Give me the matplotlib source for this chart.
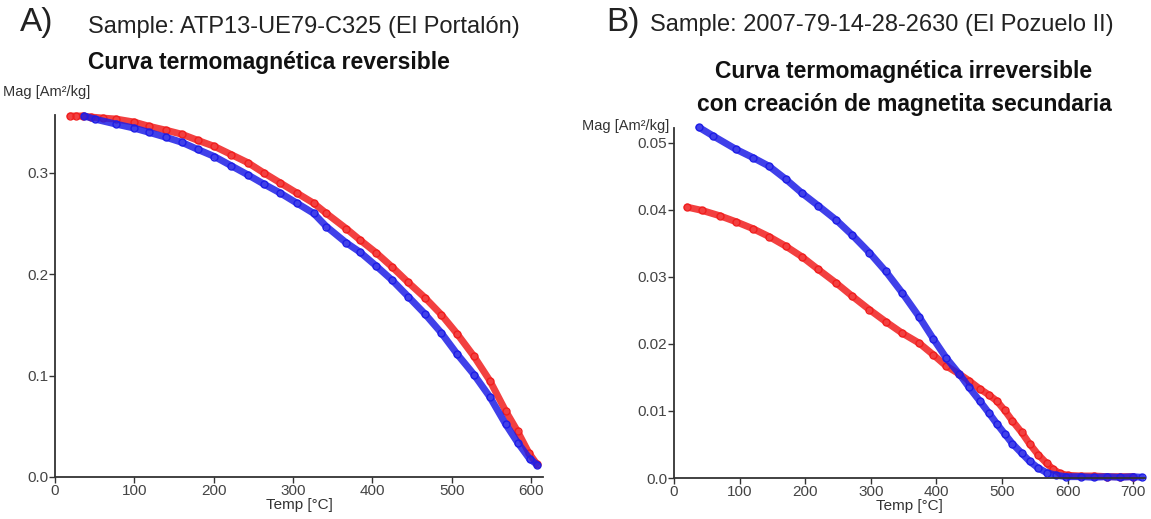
import matplotlib
matplotlib.use('Agg')
import matplotlib.pyplot as plt
from matplotlib.ticker import FixedLocator, FuncFormatter

plt.rcParams['font.family'] = ['Liberation Sans', 'DejaVu Sans']

# Panel A: ATP13-UE79-C325 (El Portalon) - reversible
a_heat_T = [19, 27, 35, 45, 60, 77, 100, 118, 140, 160, 180, 201, 222, 243, 263, 284,
            305, 326, 342, 367, 384, 405, 425, 445, 466, 487, 507, 528, 548, 568, 583,
            597, 607]
a_heat_M = [0.356, 0.356, 0.356, 0.355, 0.354, 0.353, 0.350, 0.346, 0.342, 0.338, 0.332,
            0.326, 0.318, 0.310, 0.300, 0.290, 0.280, 0.270, 0.260, 0.245, 0.234, 0.221,
            0.207, 0.192, 0.177, 0.160, 0.141, 0.119, 0.095, 0.065, 0.045, 0.024, 0.013]
a_cool_T = [37, 50, 77, 100, 118, 140, 160, 180, 201, 222, 243, 263, 284, 305, 326, 342,
            367, 384, 405, 425, 445, 466, 487, 507, 528, 548, 568, 583, 598, 608]
a_cool_M = [0.356, 0.353, 0.348, 0.344, 0.340, 0.335, 0.330, 0.323, 0.316, 0.307, 0.298,
            0.289, 0.280, 0.270, 0.260, 0.247, 0.231, 0.222, 0.208, 0.194, 0.178, 0.161,
            0.142, 0.121, 0.101, 0.079, 0.052, 0.034, 0.018, 0.012]

# Panel B: 2007-79-14-28-2630 (El Pozuelo II) - irreversible
b_heat_T = [20, 43, 70, 95, 120, 145, 170, 195, 220, 247, 272, 298, 323, 348, 374, 395,
            415, 435, 450, 466, 480, 492, 504, 516, 530, 542, 555, 568, 578, 588, 600,
            620, 640, 660, 680, 700]
b_heat_M = [0.0404, 0.0399, 0.0391, 0.0382, 0.0372, 0.0360, 0.0346, 0.0330, 0.0311,
            0.0291, 0.0271, 0.0251, 0.0233, 0.0216, 0.0201, 0.0184, 0.0167, 0.0155,
            0.0145, 0.0133, 0.0124, 0.0115, 0.0101, 0.0085, 0.0068, 0.0051, 0.0035,
            0.0022, 0.0013, 0.0007, 0.0004, 0.0003, 0.0003, 0.0002, 0.0002, 0.0002]
b_cool_T = [38, 60, 95, 120, 145, 170, 195, 220, 247, 272, 298, 323, 348, 374, 395, 415,
            435, 450, 466, 480, 492, 504, 516, 530, 542, 555, 568, 583, 598, 620, 640,
            660, 680, 700, 713]
b_cool_M = [0.0523, 0.0510, 0.0490, 0.0478, 0.0465, 0.0446, 0.0425, 0.0406, 0.0385,
            0.0362, 0.0336, 0.0308, 0.0276, 0.0240, 0.0208, 0.0179, 0.0155, 0.0135,
            0.0115, 0.0097, 0.0081, 0.0066, 0.0051, 0.0037, 0.0025, 0.0015, 0.0008,
            0.0004, 0.0002, 0.0002, 0.0001, 0.0002, 0.0001, 0.0002, 0.0001]

a_xticks = [0, 100, 200, 300, 400, 500, 600]
a_yticks = [0.0, 0.1, 0.2, 0.3]
b_xticks = [0, 100, 200, 300, 400, 500, 600, 700]
b_yticks = [0.0, 0.01, 0.02, 0.03, 0.04, 0.05]

RED = '#f01e1e'
BLUE = '#1e1ee6'
W, H = 1151, 519


def fx(px):
    return px / W


def fy(py):
    return 1 - py / H


def draw_curve(ax, T, M, color):
    ax.plot(T, M, '-', color=color, lw=5, alpha=0.85, solid_capstyle='round')
    ax.plot(T, M, 'o', color=color, mfc='none', ms=5, mew=1.0)


def style_axis(ax, xticks, yticks, yfmt):
    for s in ('top', 'right'):
        ax.spines[s].set_visible(False)
    for s in ('left', 'bottom'):
        ax.spines[s].set_color('#333333')
        ax.spines[s].set_linewidth(1.3)
    ax.xaxis.set_major_locator(FixedLocator(xticks))
    ax.yaxis.set_major_locator(FixedLocator(yticks))
    ax.yaxis.set_major_formatter(FuncFormatter(yfmt))
    ax.tick_params(direction='out', length=4, width=1, color='#333333',
                   labelsize=11, labelcolor='#444444', pad=1)


fig = plt.figure(figsize=(W / 100, H / 100), dpi=100)

# Panel A
axA = fig.add_axes([fx(55), fy(477), fx(488), (477 - 115) / H])
draw_curve(axA, a_heat_T, a_heat_M, RED)
draw_curve(axA, a_cool_T, a_cool_M, BLUE)
axA.set_xlim(0, 615)
axA.set_ylim(0, 0.357)
style_axis(axA, a_xticks, a_yticks, lambda v, p: f'{v:.1f}')
axA.set_xlabel('Temp [°C]', fontsize=11, color='#333333', labelpad=0)
for c in axA.lines:
    c.set_clip_on(False)

# Panel B
axB = fig.add_axes([fx(674), fy(478), fx(471), (478 - 128) / H])
draw_curve(axB, b_heat_T, b_heat_M, RED)
draw_curve(axB, b_cool_T, b_cool_M, BLUE)
axB.set_xlim(0, 718)
axB.set_ylim(0, 0.0522)
style_axis(axB, b_xticks, b_yticks, lambda v, p: '0.0' if v == 0 else f'{v:.2f}')
axB.set_xlabel('Temp [°C]', fontsize=11, color='#333333', labelpad=0)
for c in axB.lines:
    c.set_clip_on(False)

# Headers
fig.text(fx(20), fy(23), 'A)', fontsize=24, va='center', ha='left', color='#222222')
fig.text(fx(88), fy(27), 'Sample: ATP13-UE79-C325 (El Portalón)', fontsize=17,
         va='center', ha='left', color='#222222')
fig.text(fx(88), fy(62), 'Curva termomagnética reversible', fontsize=16.5,
         fontweight='bold', va='center', ha='left', color='#111111')
fig.text(fx(3), fy(92), 'Mag [Am²/kg]', fontsize=10.5, va='center', ha='left',
         color='#333333')

fig.text(fx(606), fy(23), 'B)', fontsize=24, va='center', ha='left', color='#222222')
fig.text(fx(650), fy(25), 'Sample: 2007-79-14-28-2630 (El Pozuelo II)', fontsize=17,
         va='center', ha='left', color='#222222')
fig.text(fx(904), fy(72), 'Curva termomagnética irreversible', fontsize=16.5,
         fontweight='bold', va='center', ha='center', color='#111111')
fig.text(fx(904), fy(104), 'con creación de magnetita secundaria', fontsize=16.5,
         fontweight='bold', va='center', ha='center', color='#111111')
fig.text(fx(669), fy(126), 'Mag [Am²/kg]', fontsize=10.5, va='center', ha='right',
         color='#333333')

fig.savefig('out.png', dpi=100)
